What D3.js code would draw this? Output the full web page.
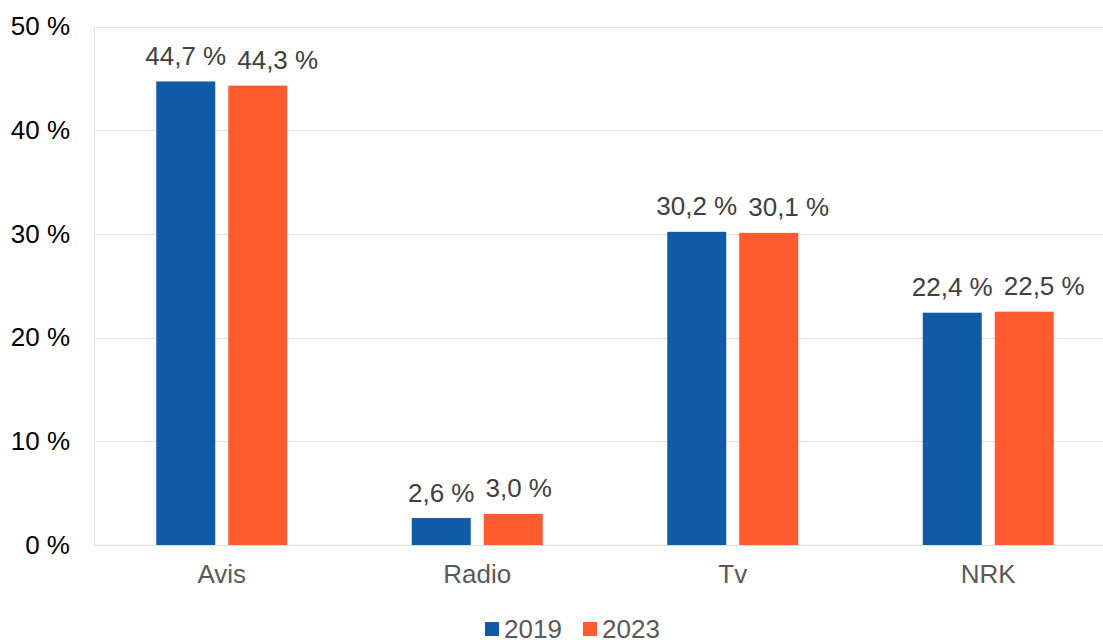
<!DOCTYPE html>
<html>
<head>
<meta charset="utf-8">
<script src="https://cdn.jsdelivr.net/npm/d3@7"></script>
<style>
  html, body { margin: 0; padding: 0; background: #ffffff; }
  svg { display: block; font-family: "Liberation Sans", Arial, sans-serif; }
</style>
</head>
<body>
<svg id="chart" width="1103" height="640"></svg>
<script>
// Andel per medium, 2019 mot 2023
const categories = ["Avis", "Radio", "Tv", "NRK"];
const seriesNames = ["2019", "2023"];
const values2019 = [44.7, 2.6, 30.2, 22.4];
const values2023 = [44.3, 3.0, 30.1, 22.5];
const yTicks = [0, 10, 20, 30, 40, 50];
const colors = ["#0F5BA6", "#FF5B2F"];

const seriesValues = [values2019, values2023];
const svg = d3.select("#chart");
const FONT = 26;

const plot = { left: 94, right: 1116, top: 26.5, bottom: 545 };

const x = d3.scaleBand()
  .domain(categories)
  .range([plot.left, plot.right])
  .paddingInner(0)
  .paddingOuter(0);

const barW = 59, barGap = 13;
const groupW = barW * 2 + barGap;
const xInner = d3.scaleBand()
  .domain(seriesNames)
  .range([0, groupW])
  .paddingInner(barGap / (barW + barGap))
  .paddingOuter(0);

const y = d3.scaleLinear().domain([0, 50]).range([plot.bottom, plot.top]);

const fmt = v => d3.format(".1f")(v).replace(".", ",") + " %";

// Rutenett
svg.append("g")
  .selectAll("line")
  .data(yTicks)
  .join("line")
  .attr("x1", plot.left).attr("x2", plot.right)
  .attr("y1", d => Math.round(y(d)) + 0.5)
  .attr("y2", d => Math.round(y(d)) + 0.5)
  .attr("stroke", "#E4E4DC")
  .attr("stroke-width", 1);

svg.append("line")
  .attr("x1", plot.left + 0.5).attr("x2", plot.left + 0.5)
  .attr("y1", y(50)).attr("y2", y(0))
  .attr("stroke", "#E4E4DC");

// Y-akse
const yAxis = svg.append("g")
  .attr("transform", `translate(${plot.left},0)`)
  .call(d3.axisLeft(y).tickValues(yTicks).tickSize(0).tickPadding(24).tickFormat(d => d + " %"));
yAxis.select(".domain").remove();
yAxis.selectAll("text")
  .attr("font-size", FONT)
  .attr("fill", "#000000")
  .attr("font-family", "Liberation Sans, Arial, sans-serif");

// Stolper
const groups = svg.append("g")
  .selectAll("g")
  .data(categories)
  .join("g")
  .attr("transform", c => `translate(${x(c) + (x.bandwidth() - groupW) / 2},0)`);

const labelSel = [];
seriesNames.forEach((s, si) => {
  groups.append("rect")
    .attr("x", xInner(s))
    .attr("width", xInner.bandwidth())
    .attr("y", (c, ci) => y(seriesValues[si][ci]))
    .attr("height", (c, ci) => y(0) - y(seriesValues[si][ci]))
    .attr("fill", colors[si]);

  labelSel.push(groups.append("text")
    .attr("x", xInner(s) + xInner.bandwidth() / 2)
    .attr("y", (c, ci) => y(seriesValues[si][ci]) - 16.5)
    .attr("text-anchor", "middle")
    .attr("font-size", FONT)
    .attr("fill", "#404040")
    .text((c, ci) => fmt(seriesValues[si][ci])));
});

// Skyv etiketter for 2023 til høyre når de ellers ville kollidert
const minGap = 11;
groups.each(function () {
  const texts = d3.select(this).selectAll("text").nodes();
  const a = texts[0], b = texts[1];
  const aEnd = +a.getAttribute("x") + a.getComputedTextLength() / 2;
  const bStart = +b.getAttribute("x") - b.getComputedTextLength() / 2;
  if (bStart < aEnd + minGap) {
    b.setAttribute("x", +b.getAttribute("x") + (aEnd + minGap - bStart));
  }
});

// Grunnlinje
svg.append("line")
  .attr("x1", plot.left).attr("x2", plot.right)
  .attr("y1", Math.round(y(0)) + 0.5).attr("y2", Math.round(y(0)) + 0.5)
  .attr("stroke", "#DADAD2")
  .attr("stroke-opacity", 0.8);

// X-akse
const xAxis = svg.append("g")
  .attr("transform", `translate(0,${y(0)})`)
  .call(d3.axisBottom(x).tickSize(0).tickPadding(20));
xAxis.select(".domain").remove();
xAxis.selectAll("text")
  .attr("font-size", FONT)
  .attr("fill", "#595959")
  .attr("font-family", "Liberation Sans, Arial, sans-serif");

// Forklaring
const legend = svg.append("g").attr("transform", "translate(485,622)");
const legendX = [0, 98];
seriesNames.forEach((s, i) => {
  const g = legend.append("g").attr("transform", `translate(${legendX[i]},0)`);
  g.append("rect").attr("width", 14).attr("height", 14).attr("fill", colors[i]);
  g.append("text")
    .attr("x", 19).attr("y", 7)
    .attr("dy", "0.35em")
    .attr("font-size", FONT)
    .attr("fill", "#595959")
    .text(s);
});
</script>
</body>
</html>
